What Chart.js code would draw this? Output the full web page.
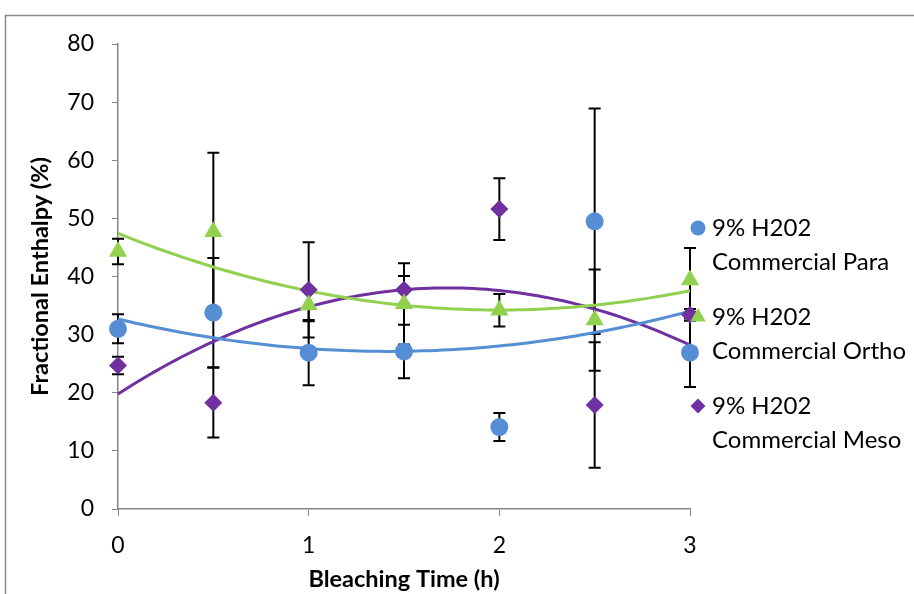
<!DOCTYPE html>
<html>
<head>
<meta charset="utf-8">
<title>Fractional Enthalpy vs Bleaching Time</title>
<script src="https://cdn.jsdelivr.net/npm/chart.js@4/dist/chart.umd.min.js"></script>
<style>
  html, body { margin: 0; padding: 0; background: #ffffff; }
  #wrap { position: relative; width: 914px; height: 594px; }
  canvas { display: block; }
</style>
</head>
<body>
<div id="wrap"><canvas id="chart" width="914" height="594"></canvas></div>
<script>
// Bleaching times (h)
const hours = [0, 0.5, 1, 1.5, 2, 2.5, 3];

// Fractional enthalpy (%) and error bar half-widths for each sample
const paraValues  = [31.0, 33.8, 26.9, 27.1, 14.1, 49.5, 26.9];
const paraErrors  = [2.5, 9.4, 5.6, 4.6, 2.4, 19.4, 5.9];
const orthoValues = [44.3, 47.7, 35.1, 35.3, 34.2, 32.5, 39.4];
const orthoErrors = [2.2, 13.6, 2.8, 7.0, 2.8, 8.7, 5.5];
const mesoValues  = [24.7, 18.3, 37.7, 37.7, 51.6, 17.9, 33.4];
const mesoErrors  = [1.5, 6.0, 8.2, 2.4, 5.3, 10.8, 1.0];

// Series names (two lines each in the legend)
const seriesNames = [
  ['9% H202', 'Commercial Para'],
  ['9% H202', 'Commercial Ortho'],
  ['9% H202', 'Commercial Meso']
];

// Axis titles and tick ranges
const xTitle = 'Bleaching Time (h)';
const yTitle = 'Fractional Enthalpy (%)';
const xRange = [0, 3];
const yRange = [0, 80];

const COLORS = { para: '#558ED5', ortho: '#92D050', meso: '#7030A0' };
const FONT = 'Lato';

// Least-squares second order polynomial: returns [c0, c1, c2]
function quadFit(xs, ys) {
  let s0 = 0, s1 = 0, s2 = 0, s3 = 0, s4 = 0, t0 = 0, t1 = 0, t2 = 0;
  xs.forEach((x, i) => {
    const y = ys[i];
    s0 += 1; s1 += x; s2 += x * x; s3 += x * x * x; s4 += x * x * x * x;
    t0 += y; t1 += x * y; t2 += x * x * y;
  });
  const det3 = (m) =>
    m[0][0] * (m[1][1] * m[2][2] - m[1][2] * m[2][1]) -
    m[0][1] * (m[1][0] * m[2][2] - m[1][2] * m[2][0]) +
    m[0][2] * (m[1][0] * m[2][1] - m[1][1] * m[2][0]);
  const A = [[s0, s1, s2], [s1, s2, s3], [s2, s3, s4]];
  const B = [t0, t1, t2];
  const D = det3(A);
  return [0, 1, 2].map(col => {
    const M = A.map((row, r) => row.map((v, c) => (c === col ? B[r] : v)));
    return det3(M) / D;
  });
}

function trendPoints(values) {
  const c = quadFit(hours, values);
  const pts = [];
  const steps = 90;
  for (let k = 0; k <= steps; k++) {
    const x = xRange[0] + (xRange[1] - xRange[0]) * k / steps;
    pts.push({ x, y: c[0] + c[1] * x + c[2] * x * x });
  }
  return pts;
}

const toPoints = (values) => hours.map((h, i) => ({ x: h, y: values[i] }));

const series = [
  { key: 'para',  values: paraValues,  errors: paraErrors,  style: 'circle',   radius: 9,    legendRadius: 7.5 },
  { key: 'ortho', values: orthoValues, errors: orthoErrors, style: 'triangle', radius: 10.5, legendRadius: 9 },
  { key: 'meso',  values: mesoValues,  errors: mesoErrors,  style: 'rectRot',  radius: 9,    legendRadius: 7.5 }
];

const datasets = [];
series.forEach((s, i) => {
  datasets.push({
    label: seriesNames[i].join(' '),
    data: toPoints(s.values),
    showLine: false,
    pointStyle: s.style,
    pointRadius: s.radius,
    pointHoverRadius: s.radius,
    backgroundColor: COLORS[s.key],
    borderColor: COLORS[s.key],
    borderWidth: 0,
    pointBorderWidth: 0,
    order: 0,
    clip: false,
    errors: s.errors
  });
});
series.forEach((s) => {
  datasets.push({
    label: s.key + ' trend',
    data: trendPoints(s.values),
    showLine: true,
    pointRadius: 0,
    borderColor: COLORS[s.key],
    borderWidth: 3,
    tension: 0,
    fill: false,
    order: 1,
    clip: false
  });
});

// Vertical error bars with caps, drawn beneath lines and markers
const errorBars = {
  id: 'errorBars',
  beforeDatasetsDraw(chart) {
    const { ctx, scales: { x, y } } = chart;
    ctx.save();
    ctx.strokeStyle = '#000000';
    ctx.lineWidth = 2;
    chart.data.datasets.forEach(ds => {
      if (!ds.errors) return;
      ds.data.forEach((p, i) => {
        const e = ds.errors[i];
        const px = x.getPixelForValue(p.x);
        const top = y.getPixelForValue(p.y + e);
        const bot = y.getPixelForValue(p.y - e);
        const cap = 6;
        ctx.beginPath();
        ctx.moveTo(px, top); ctx.lineTo(px, bot);
        ctx.moveTo(px - cap, top); ctx.lineTo(px + cap, top);
        ctx.moveTo(px - cap, bot); ctx.lineTo(px + cap, bot);
        ctx.stroke();
      });
    });
    ctx.restore();
  }
};

// Outer frame and the two-line legend on the right
const frameAndLegend = {
  id: 'frameAndLegend',
  beforeDraw(chart) {
    const { ctx } = chart;
    ctx.save();
    ctx.strokeStyle = '#8a8a8a';
    ctx.lineWidth = 1.5;
    ctx.beginPath();
    ctx.moveTo(5.5, chart.height);
    ctx.lineTo(5.5, 15.5);
    ctx.lineTo(chart.width, 15.5);
    ctx.stroke();
    ctx.restore();
  },
  afterDraw(chart) {
    const { ctx } = chart;
    const markerX = 698, textX = 712, firstY = 228, entryGap = 89, lineGap = 34;
    ctx.save();
    ctx.font = '24px ' + FONT;
    ctx.textAlign = 'left';
    ctx.textBaseline = 'middle';
    series.forEach((s, i) => {
      const cy = firstY + entryGap * i;
      ctx.fillStyle = COLORS[s.key];
      Chart.helpers.drawPoint(ctx, { pointStyle: s.style, radius: s.legendRadius, rotation: 0, borderWidth: 0 }, markerX, cy);
      ctx.fillStyle = '#000000';
      seriesNames[i].forEach((line, j) => ctx.fillText(line, textX, cy + j * lineGap));
    });
    ctx.restore();
  }
};

function build() {
  Chart.defaults.font.family = FONT;
  Chart.defaults.color = '#000000';
  new Chart(document.getElementById('chart'), {
    type: 'scatter',
    data: { datasets },
    options: {
      responsive: false,
      animation: false,
      devicePixelRatio: 1,
      events: [],
      layout: { padding: { left: 0, right: 224, top: 44, bottom: 0 } },
      plugins: { legend: { display: false }, tooltip: { enabled: false } },
      scales: {
        x: {
          type: 'linear',
          min: xRange[0], max: xRange[1],
          ticks: { stepSize: 1, font: { size: 23 }, padding: 16, color: '#000000' },
          grid: { drawOnChartArea: false, drawTicks: true, tickLength: 7, color: '#868686', lineWidth: 1 },
          border: { display: true, color: '#868686', width: 1.5 },
          title: { display: true, text: xTitle, font: { size: 23.5, weight: 'bold' }, padding: { top: 0, bottom: 0 }, color: '#000000' },
          afterFit(scale) { scale.height = 85; }
        },
        y: {
          type: 'linear',
          min: yRange[0], max: yRange[1],
          ticks: { stepSize: 10, font: { size: 23 }, padding: 18, color: '#000000' },
          grid: { drawOnChartArea: false, drawTicks: true, tickLength: 6, color: '#868686', lineWidth: 1 },
          border: { display: true, color: '#868686', width: 1.5 },
          title: { display: true, text: yTitle, font: { size: 23.5, weight: 'bold' }, padding: { top: 26, bottom: 0 }, color: '#000000' },
          afterFit(scale) { scale.width = 118; }
        }
      }
    },
    plugins: [errorBars, frameAndLegend]
  });
}

if (document.fonts && document.fonts.load) {
  Promise.all([document.fonts.load('24px ' + FONT), document.fonts.load('bold 23.5px ' + FONT)])
    .then(build, build);
} else {
  build();
}
</script>
</body>
</html>
